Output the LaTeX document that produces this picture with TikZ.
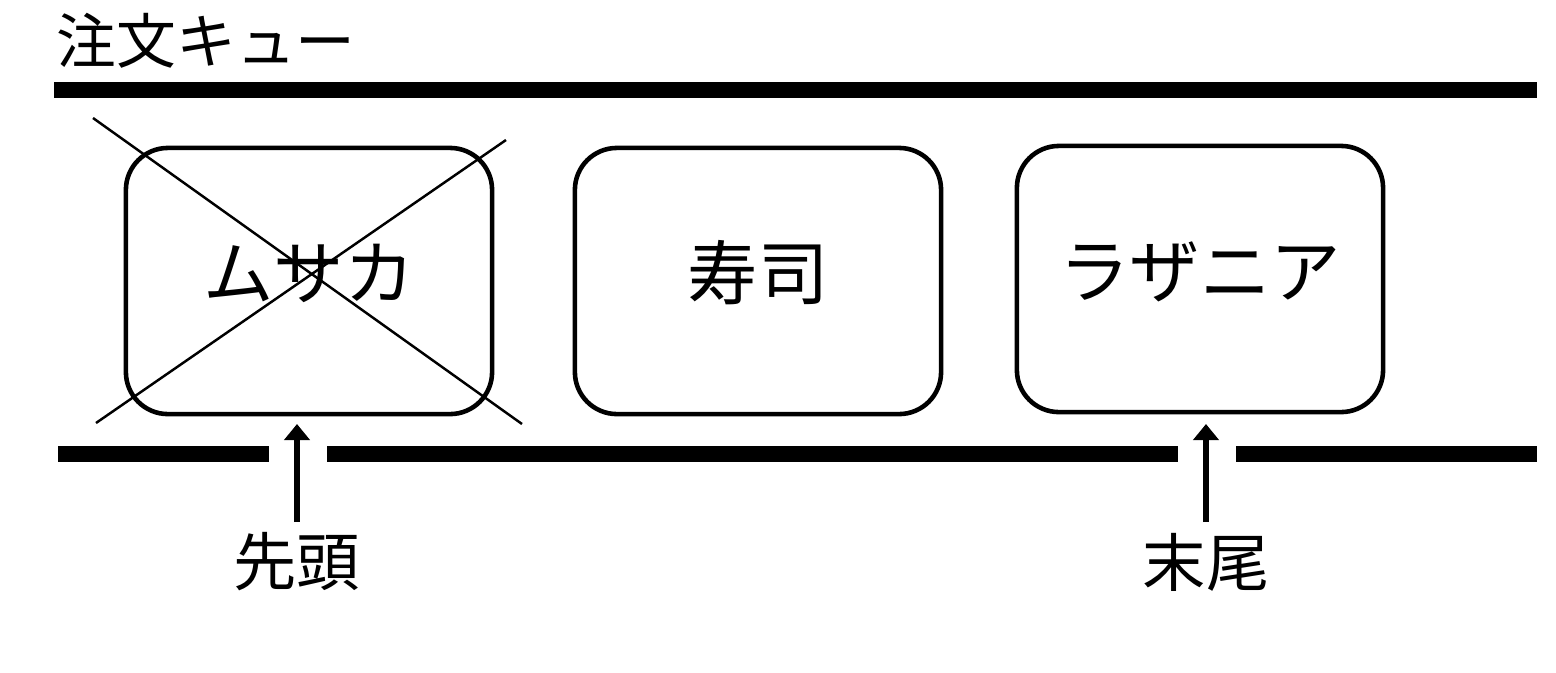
\documentclass[tikz,border=0pt]{standalone}
\usepackage{fontspec}
\setmainfont{Noto Sans CJK JP}
\usetikzlibrary{arrows.meta}
\tikzset{
  item/.style={draw, line width=1.3pt, rounded corners=0.42cm, minimum width=3.66cm,
    minimum height=2.66cm, inner sep=0pt, text height=0.6cm, text depth=0.23cm,
    font=\fontsize{20}{24}\selectfont},
  bar/.style={line width=4.6pt},
  cross/.style={line width=0.7pt},
  pointer/.style={line width=1.5pt, -{Triangle[length=0.16cm, width=0.25cm]}},
  tag/.style={inner sep=0.1cm, font=\fontsize{18}{22}\selectfont}
}

\begin{document}
\begin{tikzpicture}[x=0.01cm, y=-0.01cm]
    \useasboundingbox (0,0) rectangle (1556,672);

    % coordinates to be reused
    \coordinate (T1) at (54,90);
    \coordinate (T2) at (1537,90);
    \coordinate (B1) at (58,454);
    \coordinate (B2) at (269,454);
    \coordinate (B3) at (327,454);
    \coordinate (B4) at (1178,454);
    \coordinate (B5) at (1236,454);
    \coordinate (B6) at (1537,454);
    \coordinate (headtip) at (297,424);
    \coordinate (tailtip) at (1206,424);

    % queue walls
    \draw [bar] (T1) -- (T2);
    \draw [bar] (B1) -- (B2);
    \draw [bar] (B3) -- (B4);
    \draw [bar] (B5) -- (B6);

    % orders
    \node [item] (musaka) at (309,281) {ムサカ};
    \node [item] (sushi) at (758,281) {寿司};
    \node [item] (lasagna) at (1200,279) {ラザニア};

    % served order is crossed out
    \draw [cross] (93,118) -- (522,424);
    \draw [cross] (96,423) -- (506,140);

    % add labels
    \node [anchor=west, inner sep=0pt, font=\fontsize{17}{20}\selectfont] (title) at (56,41) {注文キュー};
    \node [tag] (head) at (297,562) {先頭};
    \node [tag] (tail) at (1206,562) {末尾};
    \draw [pointer] (head.north) -- (headtip);
    \draw [pointer] (tail.north) -- (tailtip);
\end{tikzpicture}
\end{document}
